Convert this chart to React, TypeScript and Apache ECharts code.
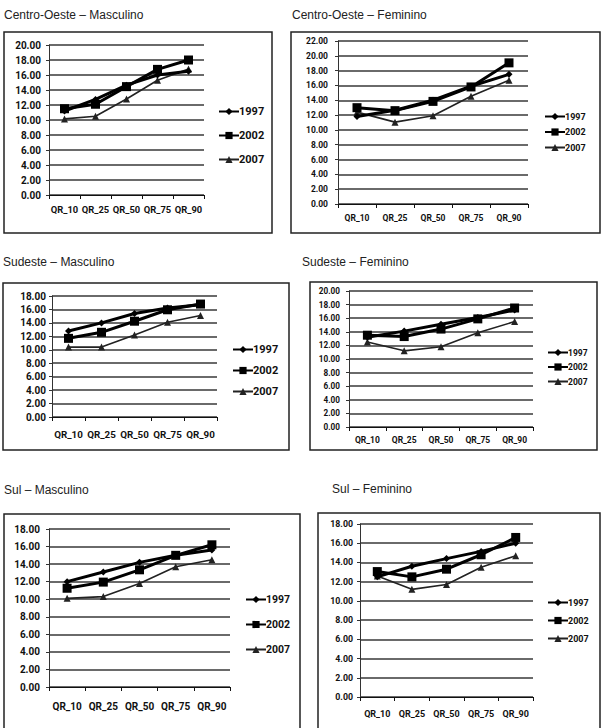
import React, { useEffect, useRef } from "react";
import * as echarts from "echarts";

const categories = ["QR_10", "QR_25", "QR_50", "QR_75", "QR_90"];
const years = ["1997", "2002", "2007"];

const coMasc1997 = [11.2, 12.75, 14.65, 16.0, 16.5];
const coMasc2002 = [11.5, 12.1, 14.45, 16.75, 18.0];
const coMasc2007 = [10.15, 10.5, 12.8, 15.3, 16.8];

const coFem1997 = [11.8, 12.65, 14.0, 15.9, 17.5];
const coFem2002 = [13.0, 12.6, 13.85, 15.8, 19.05];
const coFem2007 = [12.4, 11.05, 11.9, 14.55, 16.7];

const seMasc1997 = [12.8, 14.0, 15.4, 16.2, 16.7];
const seMasc2002 = [11.7, 12.6, 14.25, 15.95, 16.8];
const seMasc2007 = [10.4, 10.4, 12.2, 14.1, 15.1];

const seFem1997 = [13.2, 14.1, 15.1, 16.1, 17.2];
const seFem2002 = [13.5, 13.3, 14.4, 15.9, 17.5];
const seFem2007 = [12.5, 11.2, 11.8, 13.85, 15.5];

const sulMasc1997 = [12.0, 13.1, 14.2, 15.0, 15.6];
const sulMasc2002 = [11.25, 11.95, 13.35, 15.0, 16.2];
const sulMasc2007 = [10.1, 10.3, 11.8, 13.7, 14.5];

const sulFem1997 = [12.5, 13.6, 14.4, 15.15, 16.0];
const sulFem2002 = [13.05, 12.5, 13.3, 14.8, 16.6];
const sulFem2007 = [12.6, 11.2, 11.7, 13.5, 14.7];

const titles = [
  "Centro-Oeste – Masculino",
  "Centro-Oeste – Feminino",
  "Sudeste – Masculino",
  "Sudeste – Feminino",
  "Sul – Masculino",
  "Sul – Feminino",
];
const yMax = [20, 22, 18, 20, 18, 18];

const panelData = [
  [coMasc1997, coMasc2002, coMasc2007],
  [coFem1997, coFem2002, coFem2007],
  [seMasc1997, seMasc2002, seMasc2007],
  [seFem1997, seFem2002, seFem2007],
  [sulMasc1997, sulMasc2002, sulMasc2007],
  [sulFem1997, sulFem2002, sulFem2007],
];

// layout (pixels)
const layout = [
  { box: [4, 32, 268, 201], title: [4, 15], grid: [49, 45, 155, 150], fs: 10, xfs: 9.4, ylm: 8, xlm: 10, leg: [218, 106, 22, 11, 44] },
  { box: [291, 32, 309, 201], title: [292, 15], grid: [338, 41, 190, 163], fs: 8.5, xfs: 8.5, ylm: 10, xlm: 9, leg: [544, 112, 15.5, 9, 46] },
  { box: [3, 283, 286, 167], title: [3, 262], grid: [52, 296, 165, 121], fs: 10, xfs: 9.8, ylm: 6, xlm: 12, leg: [232, 344, 19, 11, 46] },
  { box: [310, 282, 287, 168], title: [302, 262], grid: [349, 291, 184, 136], fs: 8.2, xfs: 8.5, ylm: 9, xlm: 8, leg: [547, 348, 14.5, 8.5, 42] },
  { box: [4, 514, 296, 225], title: [4, 490], grid: [49, 529, 181, 158], fs: 10, xfs: 10, ylm: 9, xlm: 14, leg: [245, 594, 23, 10.5, 45] },
  { box: [318, 513, 282, 225], title: [332, 489], grid: [360, 524, 173, 173], fs: 8.8, xfs: 9, ylm: 7, xlm: 12, leg: [547, 598, 18, 9, 44] },
];

const numFont = "Roboto, 'Liberation Sans', sans-serif";

const seriesStyle = [
  { symbol: "diamond", symbolSize: 7, width: 3, color: "#000" },
  { symbol: "rect", symbolSize: 9, width: 3, color: "#000" },
  { symbol: "triangle", symbolSize: 7, width: 1.6, color: "#222" },
];

export default function App() {
  const ref = useRef<HTMLDivElement>(null);
  useEffect(() => {
    if (!ref.current) return;
    const chart = echarts.init(ref.current, null, { renderer: "svg" });

    const grid: any[] = [];
    const xAxis: any[] = [];
    const yAxis: any[] = [];
    const series: any[] = [];
    const legend: any[] = [];
    const graphic: any[] = [];

    layout.forEach((p, i) => {
      graphic.push({
        type: "rect",
        shape: { x: p.box[0], y: p.box[1], width: p.box[2], height: p.box[3] },
        style: { fill: "#fff", stroke: "#222", lineWidth: 1.5 },
        z: -10,
      });
      graphic.push({
        type: "text",
        x: p.title[0],
        y: p.title[1],
        style: {
          text: titles[i],
          fill: "#222",
          font: "12px 'Liberation Sans', Arial, sans-serif",
          textVerticalAlign: "middle",
        },
      });
      grid.push({ left: p.grid[0], top: p.grid[1], width: p.grid[2], height: p.grid[3] });
      xAxis.push({
        type: "category",
        gridIndex: i,
        data: categories,
        boundaryGap: true,
        axisLine: { lineStyle: { color: "#111", width: 1.2 } },
        axisTick: { show: true, length: 4, lineStyle: { color: "#111" } },
        axisLabel: { color: "#111", fontWeight: "bold", fontSize: p.xfs, fontFamily: numFont, margin: p.xlm, interval: 0 },
      });
      yAxis.push({
        type: "value",
        gridIndex: i,
        min: 0,
        max: yMax[i],
        interval: 2,
        axisLine: { show: true, lineStyle: { color: "#333", width: 1 } },
        axisTick: { show: true, length: 3, lineStyle: { color: "#333" } },
        splitLine: { show: true, lineStyle: { color: "#6a6a6a", width: 2 } },
        axisLabel: {
          color: "#111",
          fontWeight: "bold",
          fontSize: p.fs,
          fontFamily: numFont,
          margin: p.ylm,
          formatter: (v: number) => v.toFixed(2),
        },
      });
      panelData[i].forEach((d, k) => {
        const s = seriesStyle[k];
        series.push({
          type: "line",
          name: years[k],
          xAxisIndex: i,
          yAxisIndex: i,
          data: d,
          symbol: s.symbol,
          symbolSize: s.symbolSize,
          showAllSymbol: true,
          lineStyle: { color: s.color, width: s.width },
          itemStyle: { color: s.color },
          z: 5 - k,
        });
      });
      legend.push({
        orient: "vertical",
        left: p.leg[0],
        top: p.leg[1],
        itemWidth: 20,
        itemHeight: 9,
        itemGap: p.leg[2] - 9,
        padding: 0,
        selectedMode: false,
        data: years,
        textStyle: { color: "#111", fontWeight: "bold", fontSize: p.leg[3], fontFamily: numFont, padding: [0, 0, 0, -5] },
      });
    });

    chart.setOption({
      animation: false,
      backgroundColor: "#fff",
      grid,
      xAxis,
      yAxis,
      series,
      legend,
      graphic,
    });
    return () => chart.dispose();
  }, []);
  return <div ref={ref} style={{ position: "absolute", left: 0, top: 0, width: 605, height: 728 }} />;
}
